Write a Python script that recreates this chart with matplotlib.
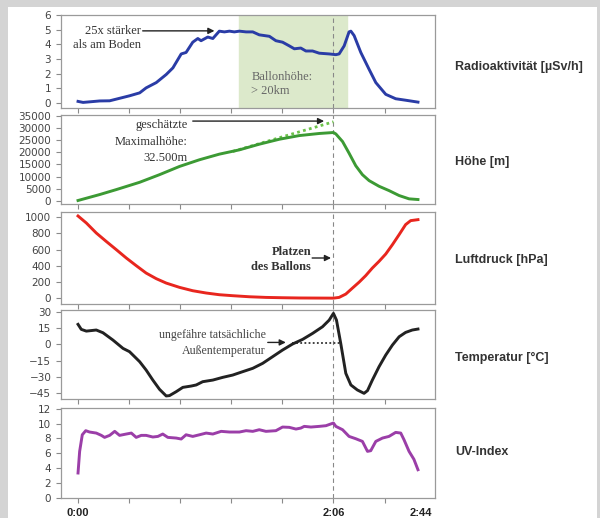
import matplotlib
matplotlib.use("Agg")
import matplotlib.pyplot as plt
from matplotlib.patches import Rectangle

# =============================================================================
# Data (time in minutes after launch)
# =============================================================================

rad_t = [0, 2.5, 10.7, 15.6, 25.4, 30.4, 33.6, 38.6, 43.5, 46.8, 50.9, 53.3, 56.6, 59.1,
         60.7, 64.0, 66.5, 69.7, 72.2, 74.7, 77.1, 79.6, 82.9, 86.2, 89.4, 94.4, 97.6,
         100.9, 104.2, 106.7, 109.9, 112.4, 115.7, 119.0, 123.9, 127.2, 128.8, 131.3,
         133.7, 134.6, 136.2, 139.5, 143.6, 146.9, 151.8, 156.7, 161.6, 167.7]
rad_v = [0.12, 0.05, 0.15, 0.16, 0.5, 0.7, 1.04, 1.4, 1.95, 2.4, 3.35, 3.45, 4.15, 4.4,
         4.25, 4.5, 4.4, 4.9, 4.85, 4.9, 4.85, 4.9, 4.85, 4.85, 4.65, 4.55, 4.25,
         4.15, 3.9, 3.7, 3.75, 3.55, 3.55, 3.4, 3.35, 3.3, 3.35, 3.9,
         4.85, 4.9, 4.6, 3.45, 2.3, 1.4, 0.6, 0.3, 0.2, 0.07]

alt_t = [0, 10.7, 18.9, 30.4, 40.2, 50.1, 59.9, 69.7, 79.6, 89.4, 99.3, 109.1, 119.0,
         126.0, 127.2, 130.5, 133.7, 137.0, 140.3, 143.6, 148.5, 153.4, 158.4, 163.3, 167.7]
alt_v = [140, 2590, 4630, 7630, 10760, 14160, 16890, 19200, 20970, 23290, 25330, 26830,
         27700, 28100, 27500, 24380, 19610, 14440, 10760, 8310, 5990, 4220, 2180, 820, 540]
alt_est_t = [76.3, 126.0]
alt_est_v = [20300, 32500]

prs_t = [0, 4.1, 9.0, 13.9, 18.9, 23.8, 28.7, 33.6, 38.6, 43.5, 50.1, 56.6, 63.2, 69.7,
         76.3, 84.5, 92.7, 100.9, 109.1, 117.3, 126.0, 128.8, 132.1, 135.4, 138.7, 141.9,
         145.2, 148.5, 151.8, 155.1, 158.4, 161.6, 164.1, 167.7]
prs_v = [1012, 926, 803, 700, 598, 496, 402, 311, 242, 188, 135, 94, 66, 45,
         33, 20, 12, 8, 5, 4, 3, 12, 53, 127, 200, 279,
         373, 455, 545, 660, 783, 906, 955, 967]

tmp_t = [0, 1.6, 4.1, 9.0, 12.3, 17.2, 22.2, 25.4, 30.4, 33.6, 36.9, 40.2, 43.5, 45.1,
         48.4, 51.7, 55.8, 58.3, 61.5, 66.5, 71.4, 76.3, 81.2, 86.2, 91.1, 96.0, 100.9,
         105.8, 110.8, 115.7, 120.6, 123.9, 126.0, 127.5, 129.6, 132.1, 134.6, 137.8,
         141.1, 142.8, 145.2, 148.5, 151.8, 155.1, 158.4, 161.6, 164.9, 167.7]
tmp_v = [18.4, 13.8, 12.2, 13.2, 10.7, 4.0, -3.7, -6.7, -15.9, -23.6, -32.8, -41.3, -47.4, -47.1,
         -43.5, -39.5, -38.3, -37.3, -34.3, -32.8, -30.3, -28.2, -25.1, -22.0, -17.4, -11.3, -5.2,
         0.3, 4.6, 10.1, 16.2, 22.3, 28.5, 22.3, 0.9, -26.6, -37.3, -41.9,
         -45.0, -42.5, -32.8, -20.5, -9.8, -0.6, 7.0, 11.0, 13.2, 14.1]
tmp_real_t = [105.8, 129.6]
tmp_real_v = [1.0, 1.0]

uv_t = [0, 0.8, 2.1, 3.8, 5.7, 9.0, 11.5, 13.1, 15.6, 18.1, 20.5, 23.8, 26.3, 28.7, 31.2,
        33.6, 36.9, 39.4, 41.8, 44.3, 48.4, 50.9, 53.3, 56.6, 59.9, 63.2, 66.5, 70.6, 74.7,
        79.6, 82.9, 86.2, 89.4, 92.7, 97.6, 100.9, 104.2, 107.5, 109.9, 111.6, 114.9, 119.0,
        122.3, 126.0, 127.2, 130.5, 133.7, 137.0, 140.3, 142.8, 144.4, 146.9, 150.2, 153.4,
        156.7, 159.2, 160.8, 163.3, 165.7, 167.7]
uv_v = [3.36, 6.27, 8.5, 9.05, 8.87, 8.73, 8.42, 8.15, 8.42, 8.96, 8.42, 8.6, 8.73, 8.15, 8.42,
        8.42, 8.2, 8.28, 8.6, 8.15, 8.06, 7.93, 8.5, 8.28, 8.5, 8.73, 8.6, 8.96, 8.87,
        8.87, 9.05, 8.96, 9.18, 8.96, 9.05, 9.54, 9.5, 9.27, 9.4, 9.63, 9.54, 9.63,
        9.72, 10.08, 9.63, 9.18, 8.28, 7.97, 7.61, 6.27, 6.36, 7.61, 8.06, 8.28,
        8.82, 8.73, 7.84, 6.27, 5.2, 3.8]

burst_t     = 126.0
high_zone   = (79.3, 132.6)
tick_t      = [0, 25.2, 50.4, 75.6, 100.8, 126.0, 151.2]
tick_labels = ["0:00", "", "", "", "", "2:06", ""]
end_t       = 169.0
end_label   = "2:44"

panel_names = ["Radioaktivität [µSv/h]", "Höhe [m]", "Luftdruck [hPa]", "Temperatur [°C]", "UV-Index"]

# =============================================================================
# Layout
# =============================================================================

W, H = 600, 518
fig = plt.figure(figsize=(W / 100, H / 100), dpi=100)
fig.patch.set_facecolor("#d4d4d4")
fig.patches.append(Rectangle((8 / W, 0), 589 / W, 1 - 7 / H, transform=fig.transFigure,
                             facecolor="white", edgecolor="none", zorder=-5))

# (top px, bottom px) of every panel
panel_px = [(15, 108), (115, 204), (212, 304), (310, 399), (408, 498)]
label_px = [67, 162, 260, 358, 452]
left_px, right_px = 61, 435

axes = []
for top, bot in panel_px:
    ax = fig.add_axes([left_px / W, 1 - bot / H, (right_px - left_px) / W, (bot - top) / H])
    ax.set_facecolor("none")
    for s in ax.spines.values():
        s.set_color("#9a9a9a")
        s.set_linewidth(0.9)
    ax.tick_params(axis="both", colors="#8a8a8a", labelcolor="#444444", labelsize=7.5,
                   length=3.5, width=0.8)
    ax.set_xticks(tick_t)
    ax.set_xticklabels([])
    ax.axvline(burst_t, color="#888888", lw=0.8, ls=(0, (4, 3)), zorder=1)
    axes.append(ax)

serif = "Liberation Serif"
arrow_kw = dict(arrowstyle="-|>", color="#222222", lw=1.0, mutation_scale=9, shrinkA=0, shrinkB=0)

# --- Radioaktivität
ax = axes[0]
ax.axvspan(*high_zone, color="#dce9cb", zorder=0)
ax.plot(rad_t, rad_v, color="#2a3ca6", lw=2.1, zorder=3)
ax.set_ylim(-0.33, 6)
ax.set_yticks(range(0, 7))
ax.annotate("", xy=(67.3, 4.92), xytext=(31.9, 4.92), arrowprops=arrow_kw)
ax.text(31.2, 4.43, "25x stärker\nals am Boden", ha="right", va="center", family=serif,
        fontsize=9, color="#333333", linespacing=1.3)
ax.text(85.5, 1.3, "Ballonhöhe:\n> 20km", ha="left", va="center", family=serif,
        fontsize=9, color="#666666", linespacing=1.2)

# --- Höhe
ax = axes[1]
ax.plot(alt_est_t, alt_est_v, color="#6cc24a", lw=2.0, ls=(0, (1, 1.2)), zorder=2)
ax.plot(alt_t, alt_v, color="#3c9a34", lw=2.1, zorder=3)
ax.set_ylim(-1300, 35300)
ax.set_yticks(range(0, 35001, 5000))
ax.annotate("", xy=(121.4, 32800), xytext=(56.6, 32800), arrowprops=arrow_kw)
ax.text(54.2, 24200, "geschätzte\nMaximalhöhe:\n32.500m", ha="right", va="center", family=serif,
        fontsize=9, color="#333333", linespacing=1.5)

# --- Luftdruck
ax = axes[2]
ax.plot(prs_t, prs_v, color="#e8261e", lw=2.1, zorder=3)
ax.set_ylim(-69, 1061)
ax.set_yticks(range(0, 1001, 200))
ax.annotate("", xy=(124.8, 496), xytext=(115.5, 496), arrowprops=arrow_kw)
ax.text(115.0, 480, "Platzen\ndes Ballons", ha="right", va="center", family=serif,
        fontsize=9, fontweight="bold", color="#333333", linespacing=1.35)

# --- Temperatur
ax = axes[3]
ax.plot(tmp_real_t, tmp_real_v, color="#333333", lw=1.3, ls=(0, (1, 1.3)), zorder=2)
ax.plot(tmp_t, tmp_v, color="#222222", lw=2.1, zorder=3)
ax.set_ylim(-50.2, 31.6)
ax.set_yticks(range(-45, 31, 15))
ax.annotate("", xy=(102.5, 1.8), xytext=(93.6, 1.8), arrowprops=arrow_kw)
ax.text(92.7, 1.5, "ungefähre tatsächliche\nAußentemperatur", ha="right", va="center",
        family=serif, fontsize=8.6, color="#444444", linespacing=1.4)

# --- UV-Index
ax = axes[4]
ax.plot(uv_t, uv_v, color="#9b3ea8", lw=2.1, zorder=3)
ax.set_ylim(0, 12.1)
ax.set_yticks(range(0, 13, 2))
tick_font = dict(family="Liberation Sans", fontweight="bold", fontsize=8, color="#222222")
ax.tick_params(axis="x", which="both", pad=3.5)
ax.set_xticklabels(tick_labels, **tick_font)
ax.set_xticks([end_t], labels=[end_label], minor=True, **tick_font)
ax.tick_params(axis="x", which="minor", length=0, pad=7)

for ax in axes:
    ax.set_xlim(-8.4, 176.1)

for name, ypx in zip(panel_names, label_px):
    fig.text(455 / W, 1 - ypx / H, name, ha="left", va="center", family="Liberation Sans",
             fontweight="bold", fontsize=9, color="#333333")

fig.savefig("out.png", dpi=100)
